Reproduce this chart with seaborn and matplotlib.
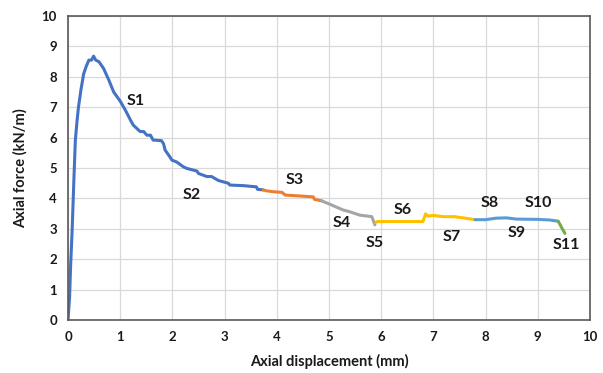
import matplotlib
matplotlib.use("Agg")
import matplotlib.pyplot as plt
import seaborn as sns
import pandas as pd

# Force-displacement response, split into stages
disp_blue = [0, 0.03, 0.05, 0.08, 0.11, 0.14, 0.17, 0.20, 0.25, 0.30, 0.35, 0.40, 0.45, 0.49,
             0.53, 0.59, 0.68, 0.78, 0.875, 1.0, 1.10, 1.19, 1.25, 1.32, 1.38, 1.45, 1.51, 1.58,
             1.63, 1.79, 1.83, 1.86, 1.95, 1.99, 2.08, 2.21, 2.27, 2.47, 2.50, 2.66, 2.75, 2.88,
             3.07, 3.10, 3.36, 3.61, 3.63, 3.74]
force_blue = [0, 0.75, 1.8, 3.0, 4.5, 5.9, 6.5, 7.0, 7.6, 8.1, 8.35, 8.55, 8.55, 8.68,
              8.55, 8.5, 8.28, 7.9, 7.5, 7.2, 6.9, 6.6, 6.41, 6.3, 6.2, 6.2, 6.08, 6.08,
              5.92, 5.9, 5.8, 5.59, 5.37, 5.26, 5.2, 5.04, 4.99, 4.9, 4.82, 4.72, 4.72, 4.59,
              4.5, 4.44, 4.42, 4.38, 4.30, 4.28]
disp_orange = [3.74, 3.80, 3.93, 4.10, 4.16, 4.44, 4.70, 4.72, 4.86]
force_orange = [4.28, 4.25, 4.22, 4.20, 4.11, 4.08, 4.05, 3.97, 3.92]
disp_gray = [4.86, 5.0, 5.27, 5.40, 5.59, 5.82, 5.88]
force_gray = [3.92, 3.82, 3.62, 3.56, 3.45, 3.40, 3.13]
disp_yellow = [5.90, 5.92, 6.80, 6.85, 6.90, 7.0, 7.19, 7.40, 7.57, 7.80]
force_yellow = [3.21, 3.24, 3.24, 3.49, 3.42, 3.44, 3.40, 3.40, 3.36, 3.30]
disp_lblue = [7.80, 8.0, 8.20, 8.40, 8.59, 9.0, 9.23, 9.39]
force_lblue = [3.30, 3.30, 3.35, 3.36, 3.32, 3.31, 3.29, 3.25]
disp_green = [9.39, 9.43, 9.47, 9.52]
force_green = [3.25, 3.13, 3.0, 2.85]

# Stage labels and their positions
stage_names = ["S1", "S2", "S3", "S4", "S5", "S6", "S7", "S8", "S9", "S10", "S11"]
stage_x = [1.3, 2.37, 4.35, 5.24, 5.88, 6.42, 7.35, 8.07, 8.59, 9.01, 9.55]
stage_y = [7.2, 4.11, 4.6, 3.18, 2.54, 3.62, 2.74, 3.84, 2.85, 3.84, 2.47]

x_ticks = list(range(0, 11))
y_ticks = list(range(0, 11))

sns.set_theme(style="white")
plt.rcParams["font.family"] = ["Lato", "DejaVu Sans"]

fig = plt.figure(figsize=(6.03, 3.73), dpi=100)
ax = fig.add_axes([0.1128, 0.1421, 0.8656, 0.8149])

segments = [
    (disp_blue, force_blue, "#4472C4"),
    (disp_orange, force_orange, "#ED7D31"),
    (disp_gray, force_gray, "#A5A5A5"),
    (disp_yellow, force_yellow, "#FFC000"),
    (disp_lblue, force_lblue, "#5B9BD5"),
    (disp_green, force_green, "#70AD47"),
]
for xs, ys, col in segments:
    df = pd.DataFrame({"disp": xs, "force": ys})
    sns.lineplot(data=df, x="disp", y="force", sort=False, color=col,
                 linewidth=2.2, ax=ax, estimator=None)

for name, sx, sy in zip(stage_names, stage_x, stage_y):
    ax.text(sx, sy, name, ha="center", va="center", fontsize=11.5,
            fontweight="bold", color="#1a1a1a")

ax.set_xlim(0, 10)
ax.set_ylim(0, 10)
ax.set_xticks(x_ticks)
ax.set_yticks(y_ticks)
ax.set_xticklabels([str(t) for t in x_ticks], fontweight="bold", fontsize=9.5)
ax.set_yticklabels([str(t) for t in y_ticks], fontweight="bold", fontsize=9.5)
ax.tick_params(axis="both", length=0, pad=8, colors="#1a1a1a")
ax.grid(True, color="#d9d9d9", linewidth=0.9)
ax.set_axisbelow(True)
for sp in ax.spines.values():
    sp.set_color("#595959")
    sp.set_linewidth(1.2)

ax.set_xlabel("Axial displacement (mm)", fontweight="bold", fontsize=10.5,
              color="#1a1a1a", labelpad=8)
ax.set_ylabel("Axial force (kN/m)", fontweight="bold", fontsize=10.5,
              color="#1a1a1a", labelpad=10)

fig.savefig("out.png", dpi=100, facecolor="white")
